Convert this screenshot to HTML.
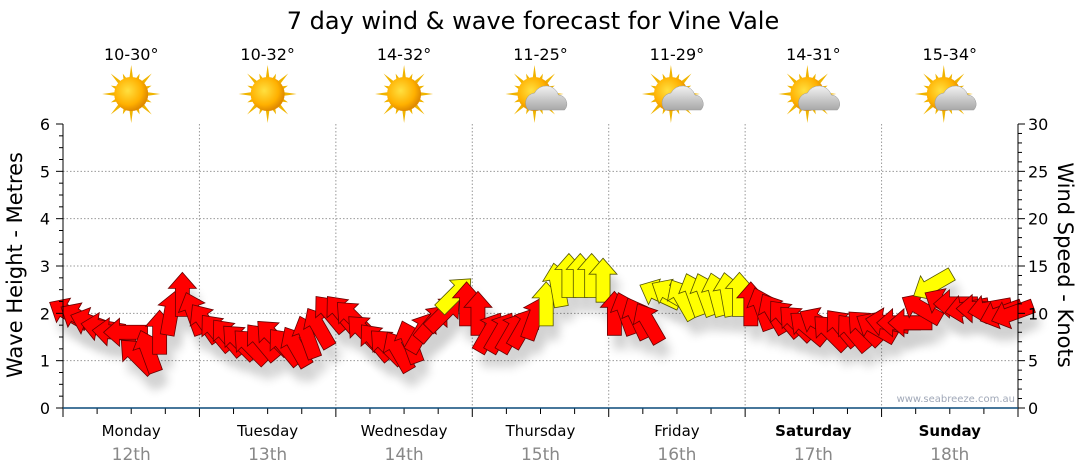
<!DOCTYPE html>
<html><head><meta charset="utf-8">
<style>
body{margin:0;background:#fff;}
svg{display:block;font-family:"DejaVu Sans","Liberation Sans",sans-serif;}
</style></head>
<body>
<svg id="c" width="1080" height="475" viewBox="0 0 1080 475">
<defs>
<radialGradient id="sunG" cx="40%" cy="40%" r="60%"><stop offset="0" stop-color="#ffe040"/><stop offset="0.7" stop-color="#ffb000"/><stop offset="1" stop-color="#e08a00"/></radialGradient>
<linearGradient id="cloudG" x1="0" y1="0" x2="0" y2="1"><stop offset="0" stop-color="#f2f2f2"/><stop offset="1" stop-color="#a8a8a8"/></linearGradient>
<filter id="sh" x="-20%" y="-20%" width="140%" height="160%"><feGaussianBlur stdDeviation="5"/></filter>
</defs>
<text x="533" y="29" font-size="24" text-anchor="middle" fill="#000">7 day wind &amp; wave forecast for Vine Vale</text>
<g id="grid"></g>
<g id="icons"></g>
<g id="shadows" opacity="0.18"></g>
<g id="arrows"></g>
<g id="axes"></g>
<text x="1015" y="402" font-size="10" text-anchor="end" fill="#a0a8b8">www.seabreeze.com.au</text>
<text transform="translate(22,265) rotate(-90)" font-size="21" text-anchor="middle" fill="#000">Wave Height - Metres</text>
<text transform="translate(1058,265) rotate(90)" font-size="21" text-anchor="middle" fill="#000">Wind Speed - Knots</text>
</svg>
<script>
const days = ["Monday","Tuesday","Wednesday","Thursday","Friday","Saturday","Sunday"];
const dates = ["12th","13th","14th","15th","16th","17th","18th"];
const temps = ["10-30°","10-32°","14-32°","11-25°","11-29°","14-31°","15-34°"];
const cloudy = [0,0,0,1,1,1,1];
const waveTicks = [0,1,2,3,4,5,6];
const windTicks = [0,5,10,15,20,25,30];
const windKnots = [
 10,9.5,9,8.5,8,8,5.5,6,8,10,12,10,
 9,8,7.5,7,6.5,7,7.5,6.5,6.5,7.5,8.5,10,
 10,9.5,8,7,6.5,6,7,8,9,10,12,11,
 10,8,8,8,8.5,9.5,11,13,14,14,14,13.5,
 10,10,9.5,9,12,12,11.5,12,12,12,12,12,
 11,10.5,10,9.5,9,8.5,9,8,8.5,8,8.5,8.5,
 9,9,9,10.5,13,11,11,10.5,10.5,10.5,10,10];
const windDir = [
 -60,-60,-70,-80,-85,-90,-45,-20,0,10,0,-20,
 -35,-40,-40,-45,-45,-40,-45,-40,-30,-20,-30,-40,
 -40,-45,-45,-40,-45,-30,-20,30,40,45,45,0,
 0,30,30,30,30,20,0,-10,0,0,0,0,
 0,-20,-25,-30,-65,-60,-30,-20,-20,-15,-10,0,
 0,-20,-30,-40,-45,-50,-60,-45,-40,-40,-45,-60,
 -80,-90,-90,-60,-120,-60,-90,-100,-90,-100,-110,-110];
const windYellow = [
 0,0,0,0,0,0,0,0,0,0,0,0,
 0,0,0,0,0,0,0,0,0,0,0,0,
 0,0,0,0,0,0,0,0,0,0,1,0,
 0,0,0,0,0,0,1,1,1,1,1,1,
 0,0,0,0,1,1,1,1,1,1,1,1,
 0,0,0,0,0,0,0,0,0,0,0,0,
 0,0,0,0,1,0,0,0,0,0,0,0];

const NS="http://www.w3.org/2000/svg";
const X0=63,X1=1018,Y0=408,Y1=124,DW=(X1-X0)/7;
const xDay=d=>X0+d*DW;
const yWave=v=>Y0-(Y0-Y1)*v/6;
const yWind=v=>Y0-(Y0-Y1)*v/30;
const xPt=i=>X0+(i+0.5)*DW/12;
function mk(tag,attrs,parent){const e=document.createElementNS(NS,tag);for(const k in attrs)e.setAttribute(k,attrs[k]);parent.appendChild(e);return e;}
const grid=document.getElementById('grid'),axes=document.getElementById('axes'),icons=document.getElementById('icons'),arrows=document.getElementById('arrows'),shadows=document.getElementById('shadows');

waveTicks.forEach(v=>{
 if(v>0&&v<6){const l=mk('line',{x1:X0,x2:X1,y1:yWave(v),y2:yWave(v),stroke:'#999','stroke-dasharray':'1.5,2'},grid);
 
 }
 const t=mk('text',{x:50,y:yWave(v)+6,'font-size':16,'text-anchor':'end',fill:'#000'},axes);t.textContent=v;
 
 
});
windTicks.forEach(v=>{
 const t=mk('text',{x:1028,y:yWind(v)+6,'font-size':16,'text-anchor':'start',fill:'#000'},axes);t.textContent=v;
 
 
});
for(let i=0;i<=24;i++){const y=Y0-(Y0-Y1)*i/24;const L=i%4==0?7:4;
 mk('line',{x1:X0-L,x2:X0,y1:y,y2:y,stroke:'#000'},axes);}
for(let i=0;i<=30;i++){const y=yWind(i);const L=i%5==0?7:4;
 mk('line',{x1:X1,x2:X1+L,y1:y,y2:y,stroke:'#000'},axes);}
for(let d=1;d<7;d++){const l=mk('line',{x1:xDay(d),x2:xDay(d),y1:Y1,y2:Y0,stroke:'#999','stroke-dasharray':'1.5,2'},grid);
 
 }
for(let i=0;i<=28;i++){const x=X0+i*DW/4;mk('line',{x1:x,x2:x,y1:Y0,y2:Y0+(i%4==0?9:6),stroke:'#000'},axes);}
mk('line',{x1:X0,x2:X0,y1:Y1,y2:Y0,stroke:'#000'},axes);
mk('line',{x1:X1,x2:X1,y1:Y1,y2:Y0,stroke:'#000'},axes);
mk('line',{x1:X0,x2:X1,y1:Y0,y2:Y0,stroke:'#0a4a7a','stroke-width':1.5},axes);

days.forEach((d,i)=>{
 const cx=xDay(i+0.5);const we=i>=5;
 const t=mk('text',{x:cx,y:436,'font-size':15,'text-anchor':'middle',fill:'#000','font-weight':we?'bold':'normal'},axes);t.textContent=d;
 
 
 const t2=mk('text',{x:cx,y:460,'font-size':17,'text-anchor':'middle',fill:'#888'},axes);t2.textContent=dates[i];
 
 
 const t3=mk('text',{x:cx,y:60,'font-size':16,'text-anchor':'middle',fill:'#000'},icons);t3.textContent=temps[i];
 
 
 const g=mk('g',{transform:`translate(${cx-(cloudy[i]?6:0)},94)`},icons);
 
 
 for(let r=0;r<16;r++){const a=r*Math.PI/8;const L=r%2?22:29;
  mk('polygon',{points:`${Math.cos(a-0.13)*15},${Math.sin(a-0.13)*15} ${Math.cos(a)*L},${Math.sin(a)*L} ${Math.cos(a+0.13)*15},${Math.sin(a+0.13)*15}`,fill:'#f0b400'},g);}
 mk('circle',{cx:0,cy:0,r:17,fill:'url(#sunG)'},g);
 if(cloudy[i]){mk('path',{d:'M-6,16 a10,10 0 0 1 6,-17 a13,13 0 0 1 24,2 a9,9 0 0 1 6,15 z',fill:'url(#cloudG)',stroke:'#999','stroke-width':0.5},g);}
});

windKnots.forEach((k,i)=>{
 const x=xPt(i),y=yWind(k);
 const pts="0,-22 14,-6 7,-6 7,22 -7,22 -7,-6 -14,-6";
 mk('polygon',{points:pts,fill:'#000',filter:'url(#sh)',transform:`translate(${x+6},${y+14}) rotate(${windDir[i]})`},shadows);
 const p=mk('polygon',{points:pts,fill:windYellow[i]?'#ffff00':'#ff0000',stroke:windYellow[i]?'#555500':'#600','stroke-width':0.8,'stroke-linejoin':'miter',transform:`translate(${x},${y}) rotate(${windDir[i]})`},arrows);
 
 
});
</script>
</body></html>
